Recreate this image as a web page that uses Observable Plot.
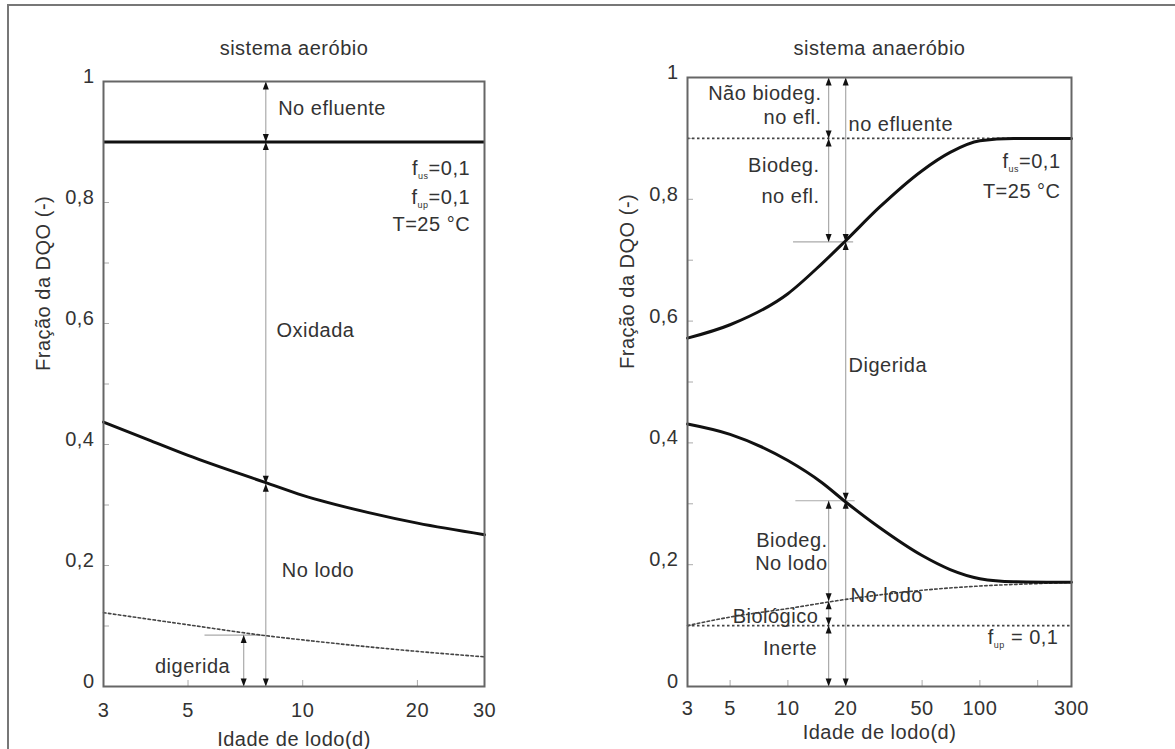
<!DOCTYPE html>
<html><head><meta charset="utf-8">
<script src="https://cdn.jsdelivr.net/npm/d3@7"></script>
<script src="https://cdn.jsdelivr.net/npm/@observablehq/plot@0.6"></script>
<style>
body{margin:0;background:#fff;}
#wrap{position:relative;width:1175px;height:749px;overflow:hidden;background:#fff;}
#border{position:absolute;left:7px;top:4px;width:1200px;height:800px;border-left:2px solid #777;border-top:2px solid #777;}
#left{position:absolute;left:0;top:0}
#right{position:absolute;left:580px;top:0}
svg text{letter-spacing:0.5px;}
</style></head><body>
<div id="wrap"><div id="border"></div><div id="left"></div><div id="right"></div></div>
<script>
// ---------- shared axis data ----------
const yTicks = [0, 0.2, 0.4, 0.6, 0.8, 1];
const yMinor = [0.1, 0.2, 0.3, 0.4, 0.5, 0.6, 0.7, 0.8, 0.9];

// ---------- left panel (sistema aeróbio) ----------
const leftXTicks = [3, 5, 10, 20, 30];
const leftXInner = [5, 10, 20];
const leftSolidX = [3, 4, 5, 8, 10, 15, 20, 30];
const leftSolidY = [0.437, 0.406, 0.382, 0.337, 0.316, 0.287, 0.27, 0.251];
const leftDigX = [3, 5, 8, 10, 20, 30];
const leftDigY = [0.122, 0.102, 0.084, 0.077, 0.058, 0.049];
const leftEffluent = [0.9];
const leftStartText = ["No efluente", "Oxidada", "No lodo"];
const leftStartX = [8.62, 8.53, 8.81];
const leftStartY = [0.955, 0.588, 0.192];
const leftEndText = ["digerida", "f_us=0,1", "f_up=0,1", "T=25 °C"];
const leftEndX = [6.45, 27.5, 27.5, 27.5];
const leftEndY = [0.033, 0.856, 0.808, 0.764];
const leftUpX = [8, 8, 8, 7];
const leftUpY = [1, 0.9, 0.335, 0.085];
const leftDownX = [8, 8, 8, 7];
const leftDownY = [0.9, 0.335, 0, 0];
const leftVX = [8, 7];
const leftVY1 = [0, 0];
const leftVY2 = [1, 0.085];
const leftHY = [0.085];
const leftHX1 = [5.54];
const leftHX2 = [7.83];

// ---------- right panel (sistema anaeróbio) ----------
const rightXTicks = [3, 5, 10, 20, 50, 100, 300];
const rightXInner = [5, 10, 20, 50, 100, 200];
const rightUpperX = [3, 5, 10, 15, 20, 30, 50, 70, 100, 150, 300];
const rightUpperY = [0.572, 0.594, 0.645, 0.694, 0.732, 0.787, 0.847, 0.877, 0.896, 0.9, 0.9];
const rightLowerX = [3, 5, 10, 15, 20, 30, 50, 70, 100, 150, 300];
const rightLowerY = [0.431, 0.414, 0.371, 0.335, 0.303, 0.261, 0.215, 0.192, 0.177, 0.172, 0.171];
const rightBioX = [3, 5, 10, 20, 50, 100, 200, 300];
const rightBioY = [0.1, 0.114, 0.128, 0.143, 0.158, 0.165, 0.169, 0.171];
const rightDottedLevels = [0.9, 0.1];
const rightDottedTo = [150, 300];
const rightStartText = ["no efluente", "Digerida", "No lodo"];
const rightStartX = [20.7, 20.7, 21.2];
const rightStartY = [0.923, 0.527, 0.149];
const rightEndText = ["Não biodeg.", "no efl.", "Biodeg.", "no efl.", "f_us=0,1", "T=25 °C",
  "Biodeg.", "No lodo", "Biológico", "Inerte", "f_up = 0,1"];
const rightEndX = [14.97, 14.97, 14.6, 14.6, 263, 263, 16.1, 16.1, 14.4, 14.2, 256.6];
const rightEndY = [0.974, 0.934, 0.855, 0.805, 0.862, 0.813, 0.24, 0.202, 0.115, 0.062, 0.080];
const rightUpX = [16.3, 16.3, 16.3, 16.3, 16.3, 20, 20, 20];
const rightUpY = [1, 0.9, 0.305, 0.14, 0.1, 1, 0.73, 0.305];
const rightDownX = [16.3, 16.3, 16.3, 16.3, 16.3, 20, 20, 20];
const rightDownY = [0.9, 0.73, 0.14, 0.1, 0, 0.73, 0.305, 0];
const rightVX = [20, 16.3, 16.3];
const rightVY1 = [0, 0.73, 0];
const rightVY2 = [1, 1, 0.305];
const rightHY = [0.73, 0.305];
const rightHX1 = [10.7, 11.0];
const rightHX2 = [22.0, 22.4];

// ---------- helpers ----------
const zip = (xs, ys) => xs.map((x, i) => ({x, y: ys[i]}));
const fmtY = d => String(d).replace(".", ",");
const arrowUp = {draw(c) { c.moveTo(0, 0); c.lineTo(3, 8); c.lineTo(-3, 8); c.closePath(); }};
const arrowDown = {draw(c) { c.moveTo(0, 0); c.lineTo(3, -8); c.lineTo(-3, -8); c.closePath(); }};
const FONT = 20, INK = "#333";

function subscripts(svg) {
  d3.select(svg).selectAll("text").each(function () {
    const m = this.textContent.match(/^f_(us|up)(.*)$/);
    if (!m) return;
    const s = d3.select(this);
    s.text("");
    s.append("tspan").text("f");
    s.append("tspan").attr("font-size", 9).attr("dy", 4).text(m[1]);
    s.append("tspan").attr("dy", -4).text(m[2]);
  });
}

function panel(o) {
  const frameW = o.width - o.ml - o.mr;
  const frameH = 749 - o.mt - o.mb;
  const svg = Plot.plot({
    width: o.width, height: 749,
    marginLeft: o.ml, marginRight: o.mr, marginTop: o.mt, marginBottom: o.mb,
    style: {fontFamily: "'Liberation Sans', Arial, sans-serif", fontSize: FONT + "px", color: INK, background: "transparent"},
    x: {type: "log", domain: o.xDomain, axis: null},
    y: {domain: [0, 1], axis: null},
    marks: [
      Plot.text(o.xTicks, {x: d => d, text: d => String(d), frameAnchor: "bottom", lineAnchor: "middle", dy: o.xTickDy, fontSize: FONT, fill: INK}),
      Plot.text(yTicks, {y: d => d, text: fmtY, frameAnchor: "left", textAnchor: "end", lineAnchor: "middle", dx: -9, dy: -5, fontSize: FONT, fill: INK}),
      Plot.tickX(o.xInner, {x: d => d, insetTop: frameH - 6, stroke: "#aaa"}),
      Plot.tickY(yMinor, {y: d => d, insetRight: frameW - 6, stroke: "#aaa"}),
      Plot.text([o.title], {frameAnchor: "top", lineAnchor: "middle", dy: o.titleDy, fontSize: FONT, fill: INK}),
      Plot.text(["Idade de lodo(d)"], {frameAnchor: "bottom", lineAnchor: "middle", dy: o.xLabelDy, fontSize: FONT, fill: INK}),
      Plot.text(["Fração da DQO (-)"], {frameAnchor: "left", lineAnchor: "middle", dx: -60, dy: -13, rotate: -90, fontSize: FONT, fill: INK}),
      ...o.marks,
      Plot.frame({stroke: "#666", strokeWidth: 2})
    ]
  });
  subscripts(svg);
  return svg;
}

const thin = {stroke: "#aaa", strokeWidth: 1.2};
const dotted = {stroke: "#444", strokeWidth: 1.6, strokeDasharray: "2.5,2.5"};
const solid = {stroke: "#111", strokeWidth: 3, curve: "monotone-x"};

// ---------- left ----------
document.getElementById("left").appendChild(panel({
  width: 580, ml: 103, mr: 96, mt: 81, mb: 63,
  xDomain: [3, 30], xTicks: leftXTicks, xInner: leftXInner,
  title: "sistema aeróbio", titleDy: -33, xLabelDy: 53, xTickDy: 24,
  marks: [
    Plot.ruleX(leftVX.map((x, i) => ({x, y1: leftVY1[i], y2: leftVY2[i]})), {x: "x", y1: "y1", y2: "y2", ...thin}),
    Plot.ruleY(leftHY.map((y, i) => ({y, x1: leftHX1[i], x2: leftHX2[i]})), {y: "y", x1: "x1", x2: "x2", ...thin}),
    Plot.line(zip(leftDigX, leftDigY), {x: "x", y: "y", ...dotted, curve: "monotone-x"}),
    Plot.ruleY(leftEffluent, {y: d => d, stroke: "#111", strokeWidth: 3}),
    Plot.line(zip(leftSolidX, leftSolidY), {x: "x", y: "y", ...solid}),
    Plot.text(leftStartText.map((t, i) => ({t, x: leftStartX[i], y: leftStartY[i]})), {x: "x", y: "y", text: "t", textAnchor: "start", fontSize: FONT, fill: INK}),
    Plot.text(leftEndText.map((t, i) => ({t, x: leftEndX[i], y: leftEndY[i]})), {x: "x", y: "y", text: "t", textAnchor: "end", fontSize: FONT, fill: INK}),
    Plot.dot(zip(leftUpX, leftUpY), {x: "x", y: "y", symbol: arrowUp, r: 3, fill: "#111", stroke: "none"}),
    Plot.dot(zip(leftDownX, leftDownY), {x: "x", y: "y", symbol: arrowDown, r: 3, fill: "#111", stroke: "none"})
  ]
}));

// ---------- right ----------
document.getElementById("right").appendChild(panel({
  width: 595, ml: 107, mr: 104, mt: 77, mb: 63,
  xDomain: [3, 300], xTicks: rightXTicks, xInner: rightXInner,
  title: "sistema anaeróbio", titleDy: -29, xLabelDy: 46, xTickDy: 22,
  marks: [
    Plot.ruleX(rightVX.map((x, i) => ({x, y1: rightVY1[i], y2: rightVY2[i]})), {x: "x", y1: "y1", y2: "y2", ...thin}),
    Plot.ruleY(rightHY.map((y, i) => ({y, x1: rightHX1[i], x2: rightHX2[i]})), {y: "y", x1: "x1", x2: "x2", ...thin}),
    Plot.ruleY(rightDottedLevels.map((y, i) => ({y, x1: 3, x2: rightDottedTo[i]})), {y: "y", x1: "x1", x2: "x2", ...dotted}),
    Plot.line(zip(rightBioX, rightBioY), {x: "x", y: "y", ...dotted, curve: "monotone-x"}),
    Plot.text(rightStartText.map((t, i) => ({t, x: rightStartX[i], y: rightStartY[i]})), {x: "x", y: "y", text: "t", textAnchor: "start", fontSize: FONT, fill: INK}),
    Plot.text(rightEndText.map((t, i) => ({t, x: rightEndX[i], y: rightEndY[i]})), {x: "x", y: "y", text: "t", textAnchor: "end", fontSize: FONT, fill: INK}),
    Plot.line(zip(rightUpperX, rightUpperY), {x: "x", y: "y", ...solid}),
    Plot.line(zip(rightLowerX, rightLowerY), {x: "x", y: "y", ...solid}),
    Plot.dot(zip(rightUpX, rightUpY), {x: "x", y: "y", symbol: arrowUp, r: 3, fill: "#111", stroke: "none"}),
    Plot.dot(zip(rightDownX, rightDownY), {x: "x", y: "y", symbol: arrowDown, r: 3, fill: "#111", stroke: "none"})
  ]
}));
</script>
</body></html>
